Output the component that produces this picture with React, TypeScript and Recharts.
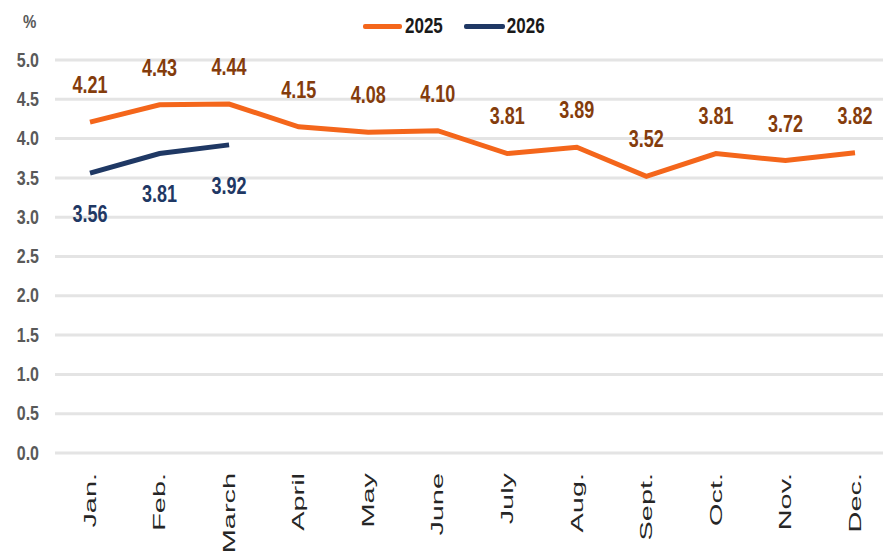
import React from "react";
import { LineChart, Line, XAxis, YAxis, CartesianGrid, Legend, LabelList } from "recharts";

const months = ["Jan.", "Feb.", "March", "April", "May", "June", "July", "Aug.", "Sept.", "Oct.", "Nov.", "Dec."];
const values2025 = [4.21, 4.43, 4.44, 4.15, 4.08, 4.1, 3.81, 3.89, 3.52, 3.81, 3.72, 3.82];
const values2026 = [3.56, 3.81, 3.92];
const yTicks = [0, 0.5, 1, 1.5, 2, 2.5, 3, 3.5, 4, 4.5, 5];

const ORANGE = "#F4661B";
const NAVY = "#1F3864";
const BROWN = "#843C0C";
const FONT = "'Liberation Sans', Arial, sans-serif";

const data = months.map((m, i) => ({
  month: m,
  y2025: values2025[i],
  y2026: i < values2026.length ? values2026[i] : null,
}));

// the source image is stretched vertically, so text is drawn taller than wide
const MonthTick = (props: any) => {
  const { x, y, payload } = props;
  return (
    <text
      transform={`translate(${x}, ${y + 12}) rotate(-90) scale(1.7, 1)`}
      textAnchor="end"
      dominantBaseline="central"
      fill="#262626"
      fontSize={17}
      fontFamily={FONT}
    >
      {payload.value}
    </text>
  );
};

const ValueTick = (props: any) => {
  const { y, payload } = props;
  return (
    <text
      transform={`translate(39, ${y}) scale(1, 1.25)`}
      textAnchor="end"
      dominantBaseline="central"
      fill="#595959"
      fontSize={16}
      fontWeight={700}
      fontFamily={FONT}
    >
      {Number(payload.value).toFixed(1)}
    </text>
  );
};

const makeLabel = (color: string, dy: number) => (props: any) => {
  const { x, y, value } = props;
  if (value == null) return null;
  return (
    <text
      transform={`translate(${x}, ${y + dy}) scale(1, 1.35)`}
      textAnchor="middle"
      dominantBaseline="central"
      fill={color}
      fontSize={18}
      fontWeight={700}
      fontFamily={FONT}
    >
      {Number(value).toFixed(2)}
    </text>
  );
};

const LegendContent = () => (
  <div style={{ position: "absolute", left: 363, top: 0, display: "flex", alignItems: "center", fontFamily: FONT, fontWeight: 700, fontSize: 17, color: "#1a1a1a" }}>
    <span style={{ display: "inline-block", width: 39, height: 5, background: ORANGE, borderRadius: 2, marginRight: 3 }} />
    <span style={{ display: "inline-block", transform: "scaleY(1.3)", marginRight: 21 }}>2025</span>
    <span style={{ display: "inline-block", width: 41, height: 5, background: NAVY, borderRadius: 2, marginRight: 2 }} />
    <span style={{ display: "inline-block", transform: "scaleY(1.3)" }}>2026</span>
  </div>
);

export default function App() {
  return (
    <div style={{ position: "absolute", left: 0, top: 0, width: 883, height: 560, background: "#fff" }}>
      <div style={{ position: "absolute", left: 23, top: 13, fontFamily: FONT, fontWeight: 700, fontSize: 15, color: "#595959", transform: "scaleY(1.25)" }}>%</div>
      <LineChart width={883} height={560} data={data} margin={{ top: 60, right: 0, bottom: 0, left: 0 }}>
        <CartesianGrid vertical={false} stroke="#e4e4e4" strokeWidth={3} />
        <XAxis
          dataKey="month"
          axisLine={false}
          tickLine={false}
          interval={0}
          height={107}
          padding={{ left: 35, right: 28 }}
          tick={<MonthTick />}
        />
        <YAxis domain={[0, 5]} ticks={yTicks} width={55} axisLine={false} tickLine={false} tick={<ValueTick />} />
        <Legend verticalAlign="middle" align="center" wrapperStyle={{ top: 16, left: 0, width: 883, height: 20 }} content={<LegendContent />} />
        <Line type="linear" dataKey="y2025" name="2025" stroke={ORANGE} strokeWidth={5} dot={false} isAnimationActive={false}>
          <LabelList dataKey="y2025" content={makeLabel(BROWN, -37)} />
        </Line>
        <Line type="linear" dataKey="y2026" name="2026" stroke={NAVY} strokeWidth={5} dot={false} isAnimationActive={false}>
          <LabelList dataKey="y2026" content={makeLabel(NAVY, 41)} />
        </Line>
      </LineChart>
    </div>
  );
}
